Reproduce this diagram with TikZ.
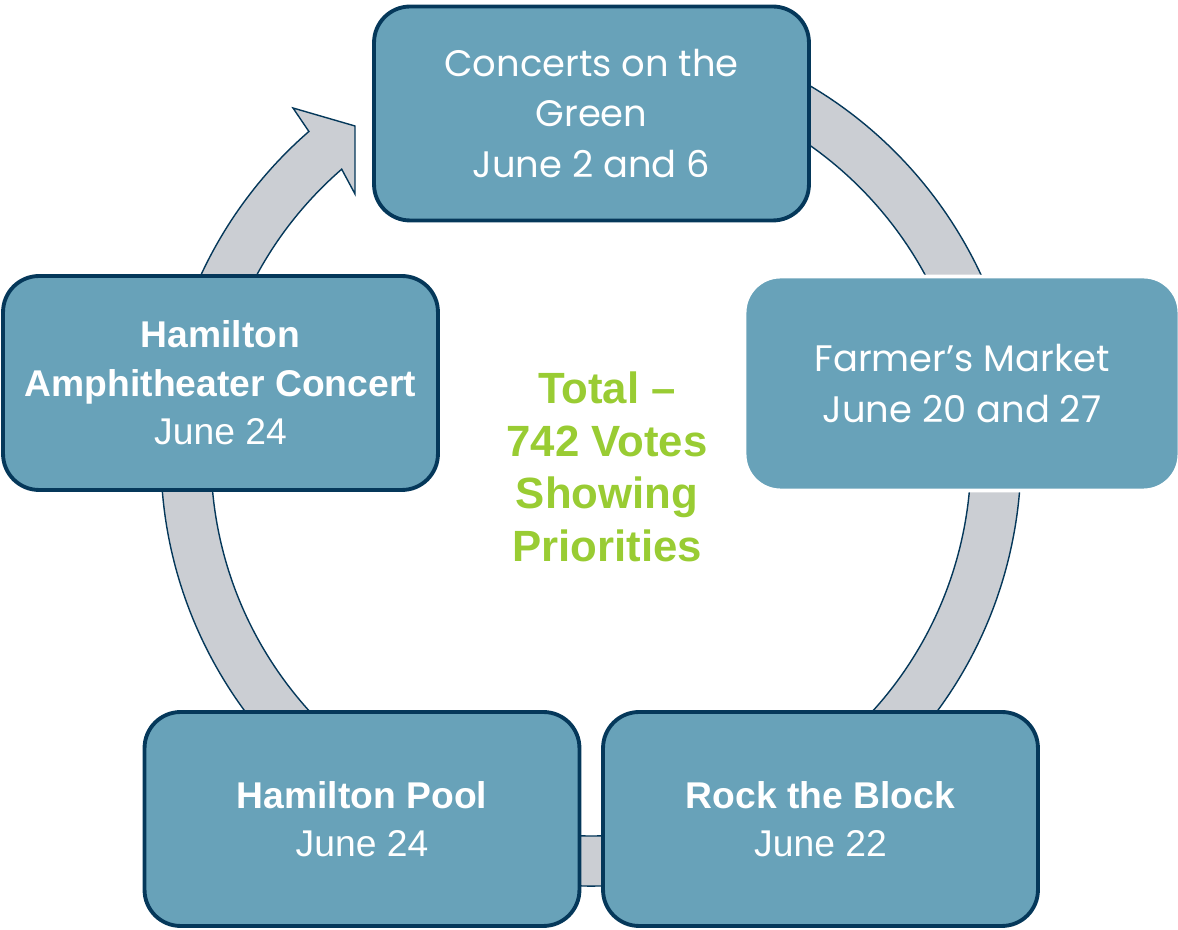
\documentclass[tikz,border=0pt]{standalone}
\usepackage{fontspec}
\setmainfont{Liberation Sans}
\newfontfamily\roundfont{Poppins}

\definecolor{boxfill}{RGB}{104,162,185}
\definecolor{boxline}{RGB}{5,56,90}
\definecolor{ringfill}{RGB}{203,206,211}
\definecolor{votegreen}{RGB}{153,204,51}

\tikzset{
  event/.style={draw=boxline, line width=2.2pt, fill=boxfill,
    rounded corners=0.72cm, minimum width=8.7cm, minimum height=4.28cm,
    inner sep=0pt, text=white, align=center,
    font=\fontsize{21.2}{27.5}\selectfont},
  roundevent/.style={event, font=\roundfont\fontsize{21}{29}\selectfont},
  ring/.style={draw=boxline, line width=0.8pt, fill=ringfill}
}

\begin{document}
\begin{tikzpicture}[x=0.02cm, y=0.02cm]
  \useasboundingbox (0,0) rectangle (1178,930);
  \coordinate (hub) at (591,474);

  % the grey ring, ending in a cut-off arrow head
  \draw[ring] ([shift={(131:430)}]hub) -- (293,822) -- (355,804) -- (355,736)
    -- ([shift={(131:380)}]hub) arc[start angle=131, end angle=440, radius=380]
    -- ([shift={(440:430)}]hub) arc[start angle=440, end angle=131, radius=430]
    -- cycle;

  \node[roundevent] (concerts) at (591.5,816.5)
    {Concerts on the\\Green\\June 2 and 6};
  \node[roundevent, draw=white] (market) at (962,546.5)
    {Farmer’s Market\\June 20 and 27};
  \node[event] (rock) at (820.5,111)
    {\textbf{Rock the Block}\\June 22};
  \node[event] (pool) at (362,111)
    {\textbf{Hamilton Pool}\\June 24};
  \node[event] (amph) at (220.5,547)
    {\textbf{Hamilton}\\\textbf{Amphitheater Concert}\\June 24};

  \node[text=votegreen, align=center, font=\bfseries\fontsize{24.9}{30}\selectfont]
    (total) at (607,463) {Total –\\742 Votes\\Showing\\Priorities};
\end{tikzpicture}
\end{document}
